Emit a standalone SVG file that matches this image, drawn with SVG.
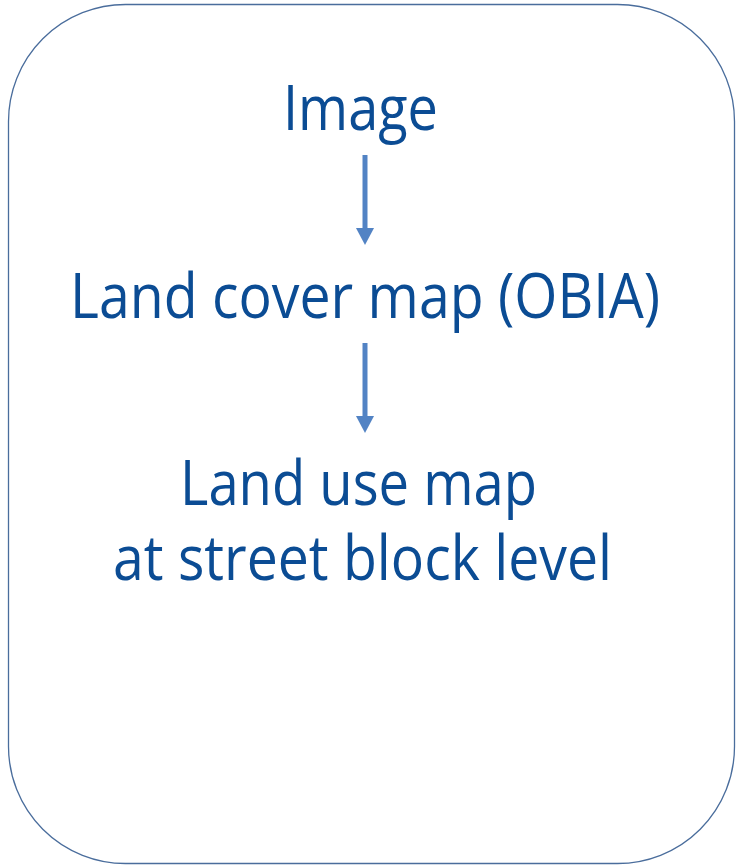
<svg xmlns="http://www.w3.org/2000/svg" width="736" height="865" viewBox="0 0 736 865">
  <defs>
    <style>
      .frame { fill: #ffffff; stroke: #4a6d9c; stroke-width: 1.3; }
      .label { font-family: "Open Sans", "Noto Sans", "Liberation Sans", sans-serif; fill: #0b4c94; text-anchor: middle; font-size: 62px; }
      .flow { stroke: #5283c4; stroke-width: 5; fill: none; }
      .head { fill: #5283c4; }
    </style>
  </defs>
  <rect width="736" height="865" fill="#ffffff"/>
  <rect class="frame" x="8.5" y="4.5" width="726" height="859" rx="117" ry="117"/>

  <g id="connectors">
    <g id="arrow-image-landcover">
      <line class="flow" x1="365" y1="155" x2="365" y2="230"/>
      <polygon class="head" points="356,228 374,228 365,245"/>
    </g>
    <g id="arrow-landcover-landuse">
      <line class="flow" x1="365" y1="343" x2="365" y2="418"/>
      <polygon class="head" points="356,416 374,416 365,433"/>
    </g>
  </g>

  <g id="node-image">
    <text class="label" x="360.5" y="130" textLength="155" lengthAdjust="spacingAndGlyphs">Image</text>
  </g>
  <g id="node-landcover">
    <text class="label" x="365" y="318" textLength="590" lengthAdjust="spacingAndGlyphs">Land cover map (OBIA)</text>
  </g>
  <g id="node-landuse">
    <text class="label" x="358.5" y="505" textLength="357" lengthAdjust="spacingAndGlyphs">Land use map</text>
    <text class="label" x="362.5" y="580" textLength="499" lengthAdjust="spacingAndGlyphs">at street block level</text>
  </g>
</svg>
